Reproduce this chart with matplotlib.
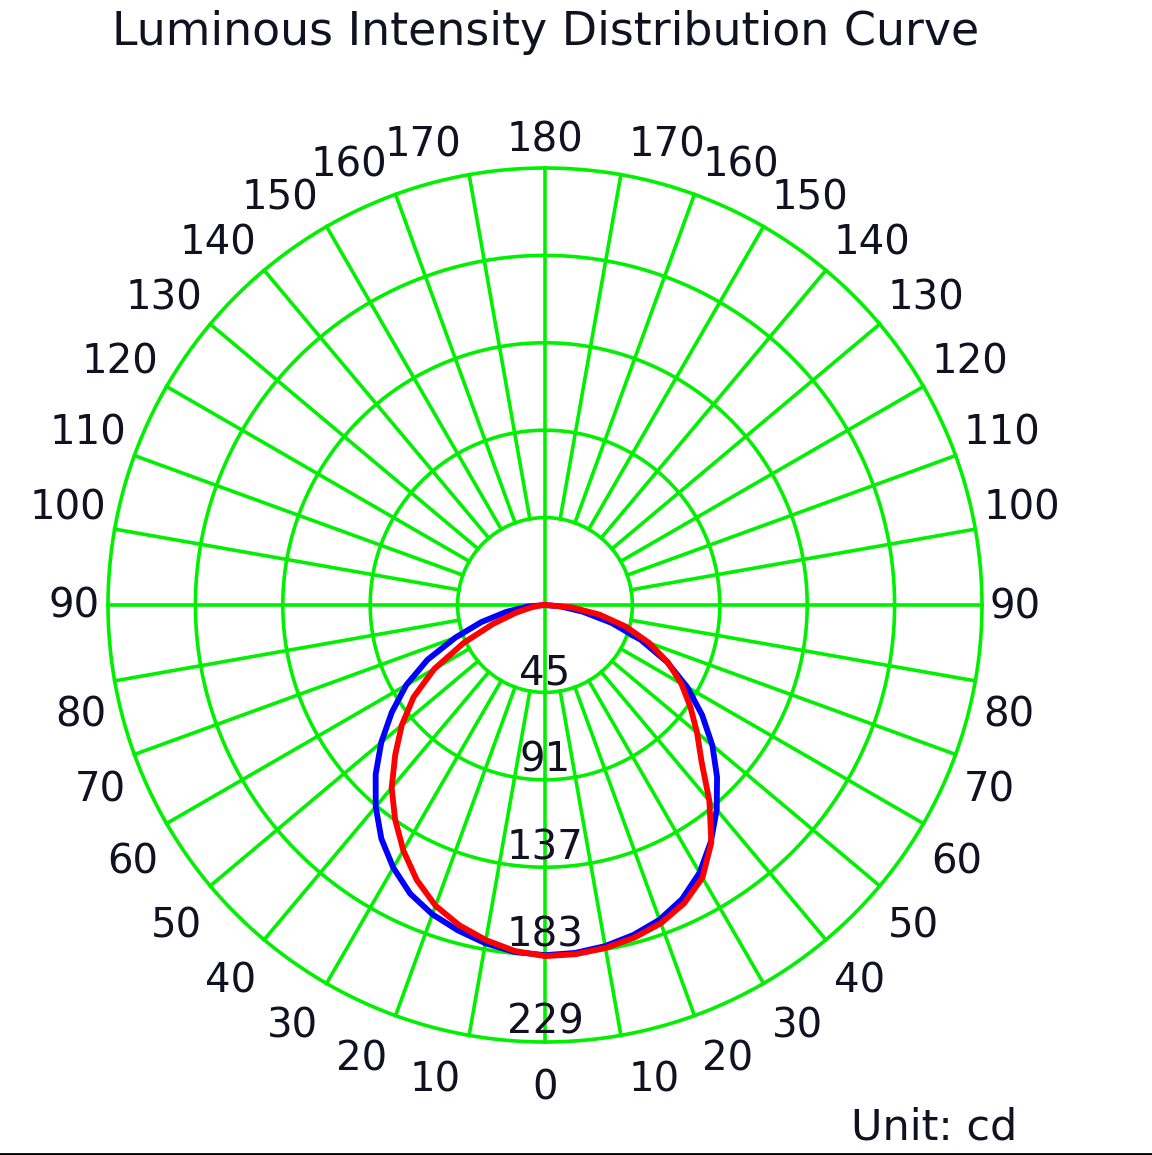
import numpy as np
import matplotlib.pyplot as plt
from matplotlib.lines import Line2D

# polar angle from nadir (deg) and intensity (cd) for each half of the two planes
gamma = np.arange(0, 95, 5)
blue_right = [183.5, 183, 181.5, 179, 175.5, 170, 162, 151.5, 140, 127.5,
              114.5, 100.5, 86, 70.5, 53.5, 36, 20, 8, 0]
blue_left = [183.5, 182.5, 180, 176.5, 172.5, 167, 159, 149.5, 138, 125.5,
             112, 98, 84, 68, 50, 34.5, 20.5, 9, 0]
red_right = [184, 183.7, 182.5, 180.5, 177.5, 172.5, 165, 152, 134, 116,
             104, 93, 82.5, 71, 58, 44, 29, 14, 0]
red_left = [184, 182, 178.3, 173.7, 167.7, 159, 148.5, 137, 125, 111,
            98, 84, 67, 47, 29, 16, 7.5, 2.5, 0]

ring_vals = [45.8, 91.6, 137.4, 183.2, 229]
ring_labels = ['45', '91', '137', '183', '229']
angle_ticks = np.arange(0, 190, 10)

green = '#00f000'
txt = '#111122'
W, H = 1152, 1155

fig = plt.figure(figsize=(W / 100, H / 100), dpi=100)
ax = fig.add_axes([108 / W, 113 / H, 874 / W, 874 / H], projection='polar')
ax.set_theta_zero_location('S')
ax.set_theta_direction(1)
ax.set_ylim(0, ring_vals[-1])
ax.axis('off')

# grid: rings and spokes
th = np.linspace(0, 2 * np.pi, 721)
for r in ring_vals:
    ax.plot(th, np.full_like(th, r), color=green, lw=2.6, clip_on=False, zorder=1)
for a in range(0, 360, 10):
    r0 = 0 if a % 90 == 0 else ring_vals[0]
    ax.plot([np.radians(a)] * 2, [r0, ring_vals[-1]], color=green, lw=2.6,
            clip_on=False, zorder=1)

# curves
g = np.radians(gamma)
def half_join(left, right):
    t = np.concatenate([-g[::-1], g[1:]])
    r = np.concatenate([np.array(left)[::-1], np.array(right)[1:]])
    return t, r

t, r = half_join(blue_left, blue_right)
ax.plot(t, r, color='#0000ff', lw=4.2, zorder=3, clip_on=False,
        solid_joinstyle='round')
t, r = half_join(red_left, red_right)
ax.plot(t, r, color='#ff0000', lw=4.2, zorder=4, clip_on=False,
        solid_joinstyle='round')

# angle labels
fs = 29
R = ring_vals[-1]
for a in angle_ticks:
    for side in (1, -1):
        if a in (0, 180) and side == -1:
            continue
        tt = side * np.radians(a)
        c = abs(np.cos(np.radians(a)))
        if a == 0:
            ha, va, dx, dy = 'center', 'top', 0, -26
        elif a == 180:
            ha, va, dx, dy = 'center', 'baseline', 0, 16
        else:
            ha = 'left' if side == 1 else 'right'
            dx = 8 * side
            if a == 90:
                va, dy = 'center', -2
            elif a < 90:
                va, dy = 'top', -(12 + 13 * c)
            else:
                va, dy = 'baseline', 8 + 10 * c
        ax.annotate(str(a), xy=(tt, R), xytext=(dx, dy), textcoords='offset pixels',
                    ha=ha, va=va, fontsize=fs, color=txt, annotation_clip=False)

# intensity labels along the 0 degree axis
for rv, lab in zip(ring_vals, ring_labels):
    ax.annotate(lab, xy=(0, rv), xytext=(0, 8), textcoords='offset pixels',
                ha='center', va='baseline', fontsize=fs, color=txt, zorder=5,
                annotation_clip=False)

fig.text(546 / W, 1 - 45 / H, 'Luminous Intensity Distribution Curve',
         ha='center', va='baseline', fontsize=33, color=txt)
fig.text(1017 / W, 1 - 1140 / H, 'Unit: cd', ha='right', va='baseline',
         fontsize=31, color=txt)
fig.add_artist(Line2D([0, 1], [1.5 / H, 1.5 / H], transform=fig.transFigure,
                      color='black', lw=2))

fig.savefig('out.png', dpi=100)
